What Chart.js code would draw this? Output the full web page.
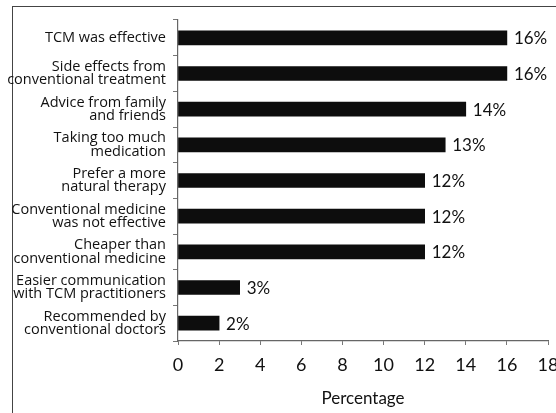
<!DOCTYPE html>
<html>
<head>
<meta charset="utf-8">
<script src="https://cdn.jsdelivr.net/npm/chart.js@4.4.1/dist/chart.umd.min.js"></script>
<style>
  html, body { margin: 0; padding: 0; background: #fff; overflow: hidden; }
  #wrap { position: relative; width: 556px; height: 413px; }
  #frame { position: absolute; left: 12px; top: 6px; width: 600px; height: 500px;
           border-left: 1.5px solid #444; border-top: 1.5px solid #444; }
  canvas { position: absolute; left: 0; top: 0; }
</style>
</head>
<body>
<div id="wrap">
  <div id="frame"></div>
  <canvas id="grafico" width="556" height="413"></canvas>
</div>
<script>
// motivos (rótulos de várias linhas)
const reasons = [
    ['TCM was effective'],
    ['Side effects from', 'conventional treatment'],
    ['Advice from family', 'and friends'],
    ['Taking too much', 'medication'],
    ['Prefer a more', 'natural therapy'],
    ['Conventional medicine', 'was not effective'],
    ['Cheaper than', 'conventional medicine'],
    ['Easier communication', 'with TCM practitioners'],
    ['Recommended by', 'conventional doctors']
]
const percentages = [16, 16, 14, 13, 12, 12, 12, 3, 2]
const xTicks = [0, 2, 4, 6, 8, 10, 12, 14, 16, 18]

const FONT = 'Lato'

// escreve o valor ao lado de cada barra
const valueLabels = {
    id: 'valueLabels',
    afterDatasetsDraw(chart) {
        const ctx = chart.ctx
        const meta = chart.getDatasetMeta(0)
        ctx.save()
        ctx.fillStyle = '#111'
        ctx.font = '17px ' + FONT
        ctx.textAlign = 'left'
        ctx.textBaseline = 'middle'
        meta.data.forEach((bar, i) => {
            ctx.fillText(percentages[i] + '%', bar.x + 7, bar.y + 1)
        })
        ctx.restore()
    }
}

const ctx = document.getElementById('grafico').getContext('2d')
const myChart = new Chart(ctx, {
    type: 'bar',
    data: {
        labels: reasons,
        datasets: [{
            data: percentages,
            backgroundColor: '#0d0d0d',
            borderWidth: 0,
            barThickness: 14
        }]
    },
    options: {
        indexAxis: 'y',
        responsive: false,
        animation: false,
        layout: {
            padding: { top: 20, right: 8, bottom: 0, left: 0 }
        },
        plugins: {
            legend: { display: false },
            tooltip: { enabled: false }
        },
        scales: {
            x: {
                min: 0,
                max: 18,
                afterBuildTicks(scale) {
                    scale.ticks = xTicks.map(v => ({ value: v }))
                },
                afterFit(scale) {
                    scale.height = 72
                    scale.paddingLeft = 0
                    scale.paddingRight = 0
                },
                grid: {
                    drawOnChartArea: false,
                    drawTicks: true,
                    tickLength: 4,
                    color: '#777'
                },
                border: { color: '#666', width: 1.2 },
                ticks: {
                    color: '#111',
                    padding: 9,
                    maxRotation: 0,
                    font: { family: FONT, size: 18 }
                },
                title: {
                    display: true,
                    text: 'Percentage',
                    color: '#111',
                    padding: { top: 4, bottom: 4 },
                    font: { family: FONT, size: 17 }
                }
            },
            y: {
                afterFit(scale) {
                    scale.width = 178
                    scale.paddingTop = 0
                    scale.paddingBottom = 0
                },
                grid: {
                    drawOnChartArea: false,
                    drawTicks: true,
                    tickLength: 5,
                    color: '#777'
                },
                border: { color: '#666', width: 1.2 },
                ticks: {
                    color: '#111',
                    padding: 7,
                    autoSkip: false,
                    font: { family: 'Open Sans', size: 14.5, lineHeight: 0.93 }
                }
            }
        }
    },
    plugins: [valueLabels]
})
</script>
</body>
</html>
